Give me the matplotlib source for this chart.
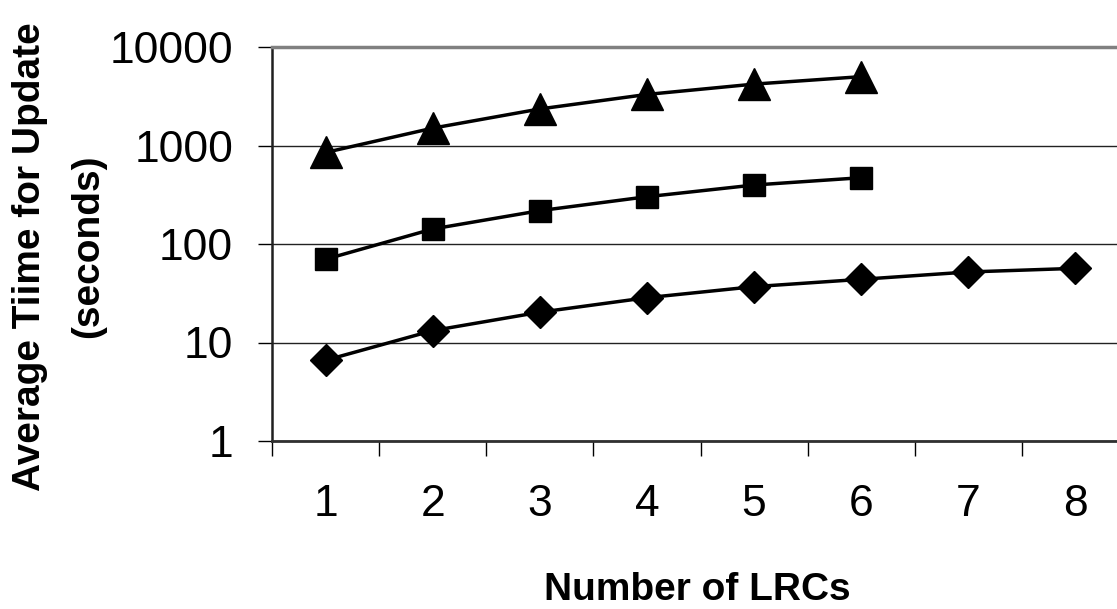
import matplotlib
matplotlib.use("Agg")
import matplotlib.pyplot as plt
from matplotlib.ticker import FixedLocator, NullFormatter, FixedFormatter

plt.rcParams['font.family'] = ['Liberation Sans', 'DejaVu Sans']

# Data
n_lrcs = [1, 2, 3, 4, 5, 6, 7, 8]
series_diamond = [6.6, 13.2, 20.3, 28.5, 36.9, 43.8, 52, 56.6]
series_square = [70, 142, 218, 302, 397, 471]
series_triangle = [850, 1500, 2350, 3300, 4200, 5000]
y_ticks = [1, 10, 100, 1000, 10000]
y_tick_labels = ["1", "10", "100", "1000", "10000"]
x_tick_labels = ["1", "2", "3", "4", "5", "6", "7", "8"]

W, H = 1117, 609
fig = plt.figure(figsize=(W / 100, H / 100), dpi=100)
left, right, top, bottom = 272, 1129, 47, 441
ax = fig.add_axes([left / W, 1 - bottom / H, (right - left) / W, (bottom - top) / H])

ax.set_yscale('log')
ax.set_ylim(1, 10000)
ax.set_xlim(0.5, len(n_lrcs) + 0.5)

line_kw = dict(color='black', lw=2.5, mec='black', mfc='black', mew=1.0,
               solid_joinstyle='round', clip_on=False, zorder=3)
ax.plot(n_lrcs[:len(series_triangle)], series_triangle, marker='^', ms=23, **line_kw)
ax.plot(n_lrcs[:len(series_square)], series_square, marker='s', ms=15.5, **line_kw)
ax.plot(n_lrcs[:len(series_diamond)], series_diamond, marker='D', ms=16, **line_kw)

# gridlines
ax.yaxis.set_major_locator(FixedLocator(y_ticks))
ax.yaxis.set_major_formatter(FixedFormatter(y_tick_labels))
ax.yaxis.set_minor_locator(FixedLocator([]))
ax.grid(axis='y', which='major', color='#222222', lw=1.0)
ax.set_axisbelow(True)

# x ticks: labels at centers, tick marks at category boundaries
ax.xaxis.set_major_locator(FixedLocator(n_lrcs))
ax.xaxis.set_major_formatter(FixedFormatter(x_tick_labels))
ax.xaxis.set_minor_locator(FixedLocator([i + 0.5 for i in range(0, len(n_lrcs) + 1)]))
ax.xaxis.set_minor_formatter(NullFormatter())
ax.tick_params(axis='x', which='major', length=0, labelsize=32, pad=31)
ax.tick_params(axis='x', which='minor', length=11, width=1.0, direction='out', color='black')
ax.tick_params(axis='y', which='major', length=10, width=1.0, direction='out',
               labelsize=32, pad=18, color='black')

ax.spines['left'].set_color('#202020')
ax.spines['left'].set_linewidth(1.8)
ax.spines['bottom'].set_color('#303030')
ax.spines['bottom'].set_linewidth(2.0)
ax.spines['top'].set_color('#808080')
ax.spines['top'].set_linewidth(2.5)
ax.spines['right'].set_visible(False)

# axis titles
fig.text(697 / W, 1 - 600 / H, "Number of LRCs", fontsize=28, fontweight='bold',
         ha='center', va='baseline')
fig.text(30 / W, 1 - 257 / H, "Average Tiime for Update", fontsize=28, fontweight='bold',
         rotation=90, ha='center', va='center')
fig.text(88 / W, 1 - 246 / H, "(seconds)", fontsize=28, fontweight='bold',
         rotation=90, ha='center', va='center')

fig.savefig("out.png", dpi=100)
